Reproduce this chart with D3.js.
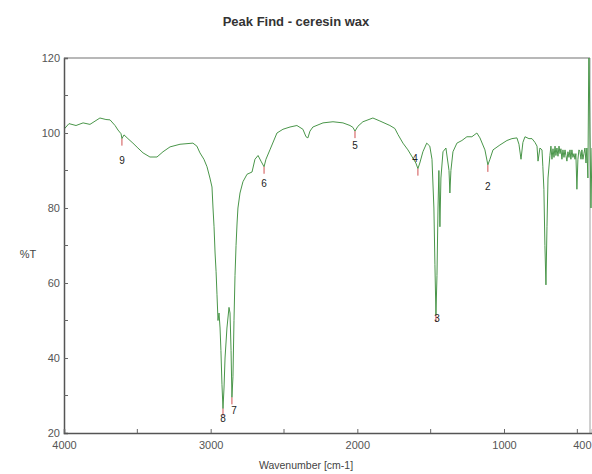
<!DOCTYPE html>
<html>
<head>
<meta charset="utf-8">
<script src="https://cdn.jsdelivr.net/npm/d3@7"></script>
<style>
  html, body { margin: 0; padding: 0; background: #fff; }
  svg { display: block; font-family: "Liberation Sans", Arial, sans-serif; }
</style>
</head>
<body>
<svg id="chart" width="592" height="474"></svg>
<script>
// ---- data ----
const title = "Peak Find - ceresin wax";
const xTitle = "Wavenumber [cm-1]";
const yTitle = "%T";

const wavenumber = [
  4000, 3966, 3918, 3870, 3823, 3755, 3714, 3686, 3652, 3632, 3611, 3605, 3591, 3564, 3530,
  3496, 3461, 3414, 3366, 3325, 3277, 3209, 3121, 3094, 3073, 3046, 3025, 3005, 2991, 2984,
  2977, 2970, 2963, 2957, 2950, 2943, 2936, 2930, 2923, 2916, 2909, 2902, 2889, 2875, 2868,
  2861, 2855, 2848, 2841, 2834, 2827, 2820, 2814, 2800, 2780, 2752, 2718, 2698, 2677, 2657,
  2636, 2623, 2596, 2548, 2507, 2459, 2412, 2371, 2350, 2337, 2323, 2303, 2234, 2166, 2098,
  2050, 2030, 2016, 1996, 1962, 1894, 1846, 1778, 1744, 1723, 1689, 1655, 1621, 1601, 1587,
  1574, 1553, 1527, 1506, 1491, 1478, 1471, 1464, 1457, 1450, 1444, 1437, 1430, 1416, 1396,
  1375, 1369, 1362, 1348, 1321, 1287, 1253, 1219, 1185, 1164, 1130, 1110, 1096, 1075, 1028,
  980, 946, 912, 898, 884, 871, 857, 830, 809, 789, 775, 768, 755, 741, 735,
  728, 721, 714, 707, 700, 687, 680, 673, 666, 659, 652, 646, 639, 632, 625,
  618, 612, 605, 598, 591, 584, 578, 571, 564, 557, 550, 544, 537, 530, 523,
  516, 510, 503, 496, 489, 482, 475, 469, 462, 455, 448, 441, 435, 428, 421,
  414, 407, 400
];
const transmittance = [
  101.0, 102.5, 102.0, 102.7, 102.3, 104.0, 103.6, 103.5, 102.0, 100.8, 99.8, 98.5, 99.5, 98.5, 97.3,
  96.0, 94.7, 93.6, 93.6, 95.0, 96.3, 97.0, 97.3, 96.5, 94.7, 93.0, 91.0, 88.0, 85.6, 80.0,
  75.0, 68.0, 63.0, 57.0, 50.0, 52.0, 48.0, 42.0, 33.0, 26.5, 32.0, 40.0, 48.0, 53.5, 52.0,
  42.0, 29.5, 35.0, 50.0, 62.0, 70.0, 76.0, 80.0, 84.0, 87.0, 89.0, 89.6, 93.0, 94.0, 92.5,
  91.0, 93.0, 95.5, 100.0, 101.0, 101.6, 102.0, 101.0, 99.0, 98.7, 100.5, 101.6, 102.7, 103.0, 102.7,
  102.0, 101.5, 100.5, 101.8, 103.0, 104.0, 103.2, 102.0, 101.2, 99.6, 97.3, 95.5, 93.3, 92.0, 90.5,
  92.0, 95.0, 97.3, 96.5, 93.0, 80.0, 65.0, 51.5, 62.0, 80.0, 90.0, 75.0, 88.0, 95.0, 96.0,
  90.0, 84.0, 90.0, 95.0, 97.3, 98.0, 99.0, 99.0, 100.0, 98.7, 95.5, 91.5, 93.0, 95.5, 96.8,
  98.0, 98.5, 98.7, 97.0, 93.0, 97.5, 99.0, 98.5, 98.5, 97.5, 96.5, 92.5, 96.0, 95.5, 91.0,
  85.0, 70.0, 59.5, 75.0, 88.0, 94.0, 96.5, 93.0, 95.8, 93.5, 96.5, 94.0, 96.0, 93.8, 96.5,
  94.5, 95.8, 93.0, 95.5, 93.5, 95.5, 94.0, 92.5, 95.0, 93.5, 95.5, 93.0, 95.5, 93.5, 94.5,
  93.0, 94.5, 85.0, 93.0, 95.5, 95.0, 93.0, 95.5, 93.0, 94.5, 96.0, 92.0, 96.0, 88.0, 125.0,
  100.0, 80.0, 96.0
];

const peakLabels = ["9", "8", "7", "6", "5", "4", "3", "2"];
const peakWavenumbers = [3605, 2916, 2855, 2636, 2016, 1587, 1464, 1110];
const peakTransmittance = [98.5, 26.5, 29.5, 91.0, 100.5, 90.5, 51.5, 91.5];

const xMajorTicks = [4000, 3000, 2000, 1000, 400];
const xMinorTicks = [3500, 2500, 1500, 500];
const yMajorTicks = [20, 40, 60, 80, 100, 120];
const yMinorTicks = [30, 50, 70, 90, 110];

// ---- chart ----
const svg = d3.select("#chart");
const pL = 64, pR = 592, pT = 58, pB = 433;
const FONT = "\"Liberation Sans\", Arial, sans-serif";

const x = d3.scaleLinear().domain([4000, 400]).range([pL, pR]);
const y = d3.scaleLinear().domain([20, 120]).range([pB, pT]);

svg.append("defs").append("clipPath").attr("id", "plotclip")
  .append("rect").attr("x", pL).attr("y", pT).attr("width", pR - pL).attr("height", pB - pT);

// frame (top & right)
svg.append("line").attr("x1", pL).attr("x2", 590).attr("y1", pT).attr("y2", pT)
  .attr("stroke", "#a0a0a0").attr("stroke-width", 1.5);
svg.append("line").attr("x1", 590).attr("x2", 590).attr("y1", pT).attr("y2", pB)
  .attr("stroke", "#a0a0a0").attr("stroke-width", 1);

// spectrum
const pts = wavenumber.map((w, i) => [w, transmittance[i]]);
svg.append("path")
  .datum(pts)
  .attr("clip-path", "url(#plotclip)")
  .attr("fill", "none")
  .attr("stroke", "#4a964a")
  .attr("stroke-width", 1)
  .attr("stroke-linejoin", "round")
  .attr("d", d3.line().x(d => x(d[0])).y(d => y(d[1])));

// axes
const yAxis = d3.axisLeft(y).tickValues(yMajorTicks).tickSize(-4).tickPadding(4).tickFormat(d3.format("d"));
const gy = svg.append("g").attr("transform", `translate(${pL},0)`).call(yAxis);
const xAxis = d3.axisBottom(x).tickValues(xMajorTicks).tickSize(-4).tickPadding(8).tickFormat(d3.format("d"));
const gx = svg.append("g").attr("transform", `translate(0,${pB})`).call(xAxis);

[gx, gy].forEach(g => {
  g.select(".domain").attr("stroke", "#555").attr("stroke-width", 1.5);
  g.selectAll(".tick line").attr("stroke", "#666");
  g.selectAll(".tick text").attr("fill", "#555").attr("font-size", 11).attr("font-family", FONT);
});
const lastTick = gx.selectAll(".tick").filter(d => d === 400);
lastTick.select("line").remove();
lastTick.select("text").attr("text-anchor", "end").attr("dx", "-1");

// minor ticks
svg.append("g").selectAll("line").data(yMinorTicks).join("line")
  .attr("x1", pL).attr("x2", pL + 4).attr("y1", d => y(d)).attr("y2", d => y(d))
  .attr("stroke", "#666");
svg.append("g").selectAll("line").data(xMinorTicks).join("line")
  .attr("x1", d => x(d)).attr("x2", d => x(d)).attr("y1", pB).attr("y2", pB - 4)
  .attr("stroke", "#666");

// peak markers
const labelOffset = { "9": [0, 25], "8": [0, 13], "7": [2, 17], "6": [0, 20], "5": [0, 18], "4": [-3, -7], "3": [1, 7], "2": [0, 25] };
const peaks = peakLabels.map((l, i) => ({ l, w: peakWavenumbers[i], t: peakTransmittance[i] }));
const pg = svg.append("g");
pg.selectAll("line").data(peaks).join("line")
  .attr("x1", d => x(d.w)).attr("x2", d => x(d.w))
  .attr("y1", d => y(d.t)).attr("y2", d => y(d.t) + 7)
  .attr("stroke", "#d05050").attr("stroke-width", 1);
pg.selectAll("text").data(peaks).join("text")
  .attr("x", d => x(d.w) + labelOffset[d.l][0])
  .attr("y", d => y(d.t) + labelOffset[d.l][1])
  .attr("text-anchor", "middle")
  .attr("font-size", 10)
  .attr("fill", "#222")
  .text(d => d.l);

// titles
svg.append("text").attr("x", 296).attr("y", 26).attr("text-anchor", "middle")
  .attr("font-size", 13).attr("font-weight", "bold").attr("fill", "#333").text(title);
svg.append("text").attr("x", 28).attr("y", 258).attr("text-anchor", "middle")
  .attr("font-size", 11).attr("fill", "#444").text(yTitle);
svg.append("text").attr("x", 306).attr("y", 469).attr("text-anchor", "middle")
  .attr("font-size", 10.5).attr("fill", "#444").text(xTitle);
</script>
</body>
</html>
